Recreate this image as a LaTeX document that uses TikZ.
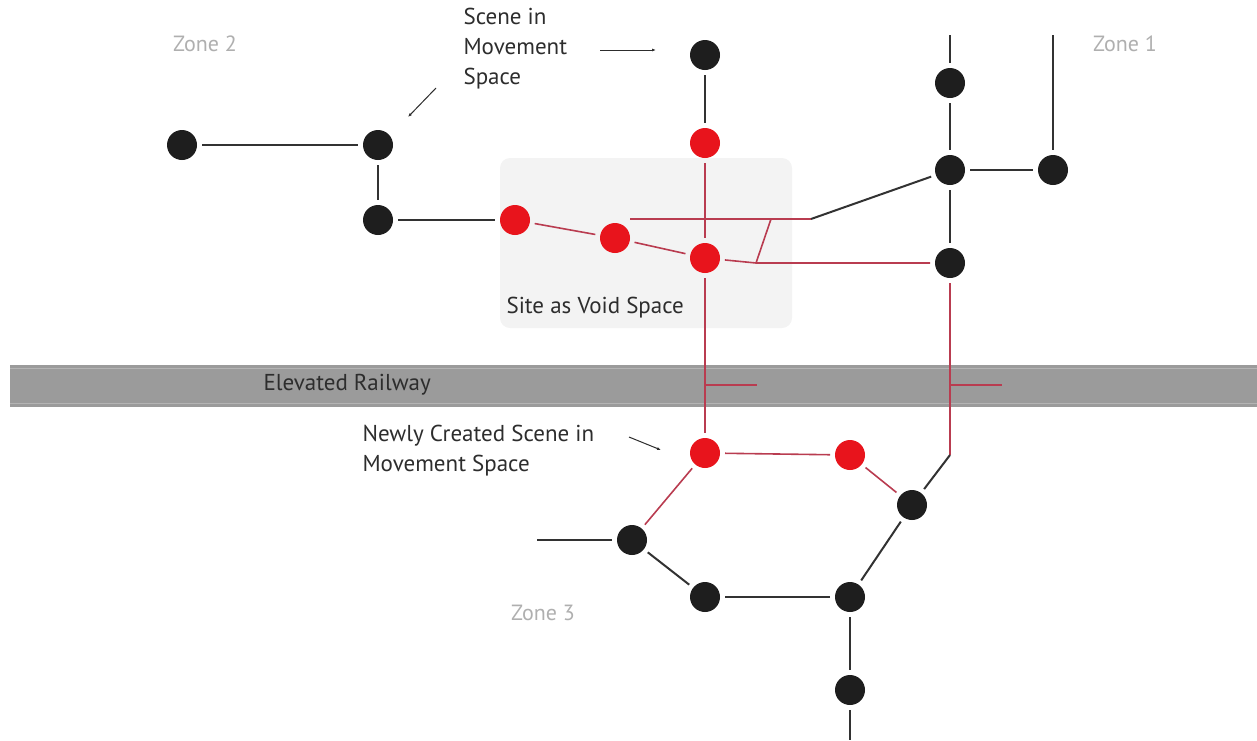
\documentclass[tikz,border=0pt]{standalone}
\usepackage{fontspec}
\setmainfont{PT Sans}
\usetikzlibrary{arrows.meta}

\begin{document}
\begin{tikzpicture}[x=1pt,y=-1pt,
  stop/.style={shape=circle,fill=stopblack,minimum size=30pt,inner sep=0pt,outer sep=5pt},
  redstop/.style={stop,fill=stopred},
  link/.style={line width=2pt,color=linkblack},
  redlink/.style={line width=1.6pt,color=linkred},
  zone/.style={color=zonegrey,font=\fontsize{22}{26}\selectfont},
  note/.style={color=textgrey,font=\fontsize{23}{30}\selectfont,align=left},
  pointer/.style={-{Latex[length=4pt,width=3pt]},line width=1pt,color=textgrey}]
\definecolor{stopblack}{RGB}{30,30,30}
\definecolor{stopred}{RGB}{232,20,28}
\definecolor{linkblack}{RGB}{50,50,50}
\definecolor{linkred}{RGB}{185,60,80}
\definecolor{zonegrey}{RGB}{175,175,175}
\definecolor{textgrey}{RGB}{45,45,45}
\definecolor{voidbox}{RGB}{243,243,243}
\definecolor{railgrey}{RGB}{155,155,155}
\useasboundingbox (0,0) rectangle (1257,740);

% void site and railway
\fill[voidbox,rounded corners=10pt] (500,158) rectangle (792,328);
\node[note,anchor=west] (void) at (503,308) {Site as Void Space};
\fill[railgrey] (10,365) rectangle (1257,407);
\draw[railgrey!75!white,line width=1pt] (10,368) -- (1257,368);
\draw[railgrey!75!white,line width=0.8pt] (10,403) -- (1257,403);
\node[note,anchor=west] (rail) at (260,385) {Elevated Railway};

% zone 2
\node[stop] (w1) at (182,145) {};
\node[stop] (w2) at (378,145) {};
\node[stop] (w3) at (378,220) {};
% scenes in the void
\node[stop] (n0) at (705,55) {};
\node[redstop] (v0) at (705,143) {};
\node[redstop] (v1) at (515,220) {};
\node[redstop] (v2) at (615,238) {};
\node[redstop] (v3) at (705,258) {};
% zone 1
\node[stop] (e1) at (950,83) {};
\node[stop] (e2) at (950,170) {};
\node[stop] (e3) at (1053,170) {};
\node[stop] (e4) at (950,263) {};
% new scenes
\node[redstop] (s1) at (705,453) {};
\node[redstop] (s2) at (850,455) {};
% zone 3
\node[stop] (c1) at (912,505) {};
\node[stop] (c2) at (632,540) {};
\node[stop] (c3) at (705,597) {};
\node[stop] (c4) at (850,597) {};
\node[stop] (c5) at (850,690) {};

\coordinate (e1top) at (950,35);
\coordinate (e3top) at (1053,35);
\coordinate (c5end) at (850,740);
\coordinate (c2end) at (537,540);
\coordinate (k0) at (630,219);
\coordinate (k1) at (811,219);
\coordinate (k2) at (756,263);
\coordinate (k3) at (771,219);
\coordinate (e4low) at (950,455);
\coordinate (t1) at (705,385);
\coordinate (t1end) at (757,385);
\coordinate (t2) at (950,385);
\coordinate (t2end) at (1002,385);

\draw[link] (w1) -- (w2);
\draw[link] (w2) -- (w3);
\draw[link] (w3) -- (v1);
\draw[link] (n0) -- (v0);
\draw[redlink] (v0) -- (v3);
\draw[redlink] (v1) -- (v2);
\draw[redlink] (v2) -- (v3);
\draw[redlink] (k0) -- (k1);
\draw[link] (k1) -- (e2);
\draw[redlink] (v3) -- (k2) -- (e4);
\draw[redlink] (k2) -- (k3);
\draw[link] (e1top) -- (e1);
\draw[link] (e1) -- (e2);
\draw[link] (e2) -- (e3);
\draw[link] (e3top) -- (e3);
\draw[link] (e2) -- (e4);
\draw[redlink] (v3) -- (s1);
\draw[redlink] (e4) -- (e4low);
\draw[link] (e4low) -- (c1);
\draw[redlink] (t1) -- (t1end);
\draw[redlink] (t2) -- (t2end);
\draw[redlink] (s1) -- (s2);
\draw[redlink] (s1) -- (c2);
\draw[redlink] (s2) -- (c1);
\draw[link] (c1) -- (c4);
\draw[link] (c2end) -- (c2);
\draw[link] (c2) -- (c3);
\draw[link] (c3) -- (c4);
\draw[link] (c4) -- (c5);
\draw[link] (c5) -- (c5end);

% labels
\node[zone] (zone2) at (205,44) {Zone 2};
\node[zone] (zone1) at (1125,44) {Zone 1};
\node[zone] (zone3) at (543,613) {Zone 3};
\node[note,anchor=north west] (scene) at (460,5) {Scene in\\Movement\\Space};
\node[note,anchor=north west] (newscene) at (359,422) {Newly Created Scene in\\Movement Space};
\coordinate (p1) at (600,50);
\coordinate (p1end) at (656,50);
\coordinate (p2) at (436,88);
\coordinate (p2end) at (408,117);
\coordinate (p3) at (629,437);
\coordinate (p3end) at (661,450);
\draw[pointer] (p1) -- (p1end);
\draw[pointer] (p2) -- (p2end);
\draw[pointer] (p3) -- (p3end);
\end{tikzpicture}
\end{document}
